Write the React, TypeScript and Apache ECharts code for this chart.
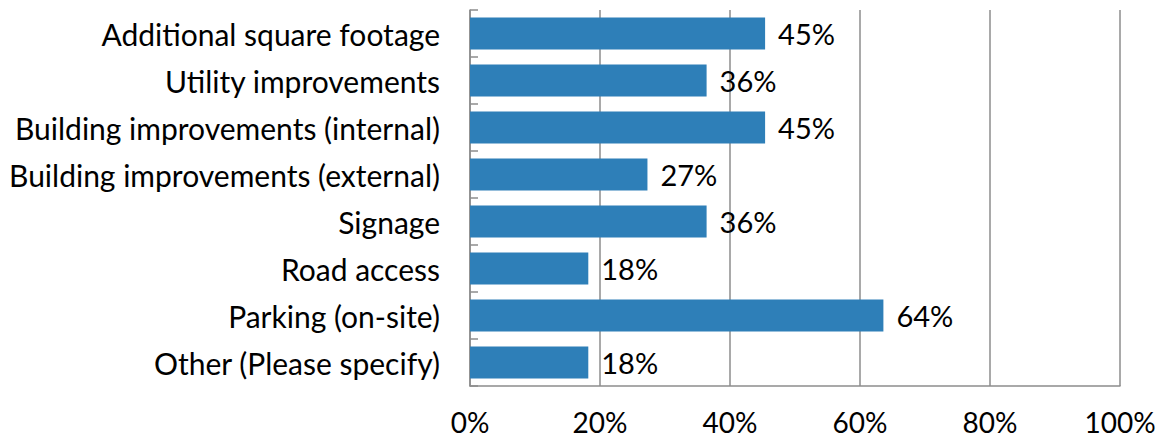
import React, { useEffect, useRef } from "react";
import * as echarts from "echarts";

const categories = [
  "Additional square footage",
  "Utility improvements",
  "Building improvements (internal)",
  "Building improvements (external)",
  "Signage",
  "Road access",
  "Parking (on-site)",
  "Other (Please specify)",
];
const values = [45.4, 36.4, 45.4, 27.3, 36.4, 18.2, 63.6, 18.2];
const xTicks = [0, 20, 40, 60, 80, 100];

const FONT = "Lato, 'Open Sans', sans-serif";

export default function App() {
  const ref = useRef<HTMLDivElement>(null);
  useEffect(() => {
    document.body.style.margin = "0";
    const chart = echarts.init(ref.current!, null, { renderer: "svg" });
    chart.setOption({
      animation: false,
      grid: { left: 470, right: 40, top: 10, bottom: 54, containLabel: false },
      xAxis: {
        type: "value",
        min: xTicks[0],
        max: xTicks[xTicks.length - 1],
        interval: 20,
        axisLine: { show: true, lineStyle: { color: "#8c8c8c", width: 1.5 } },
        axisTick: { show: false },
        splitLine: { show: true, lineStyle: { color: "#8c8c8c", width: 1.5 } },
        axisLabel: {
          margin: 22,
          fontSize: 28,
          lineHeight: 28,
          color: "#000",
          fontFamily: FONT,
          formatter: (v: number) => v + "%",
        },
      },
      yAxis: {
        type: "category",
        inverse: true,
        data: categories,
        axisLine: { show: true, lineStyle: { color: "#8c8c8c", width: 1.5 } },
        axisTick: { show: true, inside: true, length: 8, lineStyle: { color: "#8c8c8c", width: 1.5 } },
        axisLabel: {
          margin: 30,
          fontSize: 30,
          color: "#000",
          fontFamily: FONT,
        },
      },
      series: [
        {
          type: "bar",
          data: values,
          barCategoryGap: "32%",
          itemStyle: { color: "#2e7fb8" },
          label: {
            show: true,
            position: "right",
            distance: 13,
            fontSize: 29,
            color: "#000",
            fontFamily: FONT,
            formatter: (p: any) => Math.round(p.value) + "%",
          },
        },
      ],
    });
    return () => chart.dispose();
  }, []);
  return <div ref={ref} style={{ width: 1160, height: 440 }} />;
}
